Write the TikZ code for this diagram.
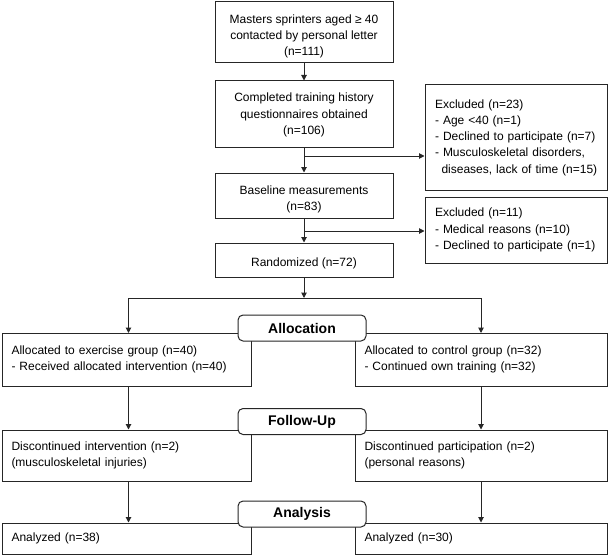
\documentclass[tikz,border=0pt]{standalone}
\usepackage{fontspec}
\setmainfont{Liberation Sans}
\usetikzlibrary{arrows.meta,calc}
\tikzset{
  every node/.style={font=\fontsize{12}{16.3}\selectfont},
  box/.style={draw=black!85, line width=1pt, rectangle, inner sep=0pt, fill=white},
  cbox/.style={box, align=center, minimum width=178pt},
  lbox/.style={box, align=left, inner xsep=10pt},
  phase/.style={draw=black!85, line width=1pt, rounded corners=5pt, fill=white,
     minimum width=128pt, minimum height=26pt, inner sep=0pt,
     font=\fontsize{14}{16}\selectfont\bfseries},
  arr/.style={draw=black!85, line width=1pt, -{Triangle[length=5.5pt,width=5.5pt]}},
}
\begin{document}
\begin{tikzpicture}[x=1pt,y=-1pt]
\useasboundingbox (0,0) rectangle (609,556);
% main column
\node[cbox, minimum height=61pt] (b1) at (304,32.5) {\rule{0pt}{16.5pt}Masters sprinters aged ≥ 40\\contacted by personal letter\\(n=111)};
\node[cbox, minimum height=66pt] (b2) at (304,114) {\rule{0pt}{11pt}Completed training history\\questionnaires obtained\\(n=106)};
\node[cbox, minimum height=45pt] (b3) at (304,195.5) {\rule{0pt}{16pt}Baseline measurements\\(n=83)};
\node[cbox, minimum height=34pt] (b4) at (304,260) {\rule{0pt}{16pt}Randomized (n=72)};
% exclusions
\node[lbox, text width=162pt, minimum height=105pt] (e1) at (516,137.5) {Excluded (n=23)\\- Age <40 (n=1)\\- Declined to participate (n=7)\\- Musculoskeletal disorders,\\\hspace*{6.5pt}\makebox[0pt][l]{diseases, lack of time (n=15)}};
\node[lbox, text width=162pt, minimum height=66pt] (e2) at (516,230) {Excluded (n=11)\\- Medical reasons (n=10)\\- Declined to participate (n=1)};
% groups
\node[lbox, inner xsep=9.5pt, text width=230pt, minimum height=53pt] (al) at (126.5,359.5) {Allocated to exercise group (n=40)\\- Received allocated intervention (n=40)};
\node[lbox, inner xsep=9.5pt, text width=233pt, minimum height=53pt] (ar) at (481,359.5) {Allocated to control group (n=32)\\- Continued own training (n=32)};
\node[lbox, inner xsep=9.5pt, text width=230pt, minimum height=51pt] (fl) at (126.5,455.5) {Discontinued intervention (n=2)\\(musculoskeletal injuries)};
\node[lbox, inner xsep=9.5pt, text width=233pt, minimum height=51pt] (fr) at (481,455.5) {Discontinued participation (n=2)\\(personal reasons)};
\node[lbox, inner xsep=9.5pt, text width=230pt, minimum height=31pt] (nl) at (126.5,538.5) {Analyzed (n=38)};
\node[lbox, inner xsep=9.5pt, text width=233pt, minimum height=31pt] (nr) at (481,538.5) {Analyzed (n=30)};
% coordinates
\coordinate (s1) at (304,156);
\coordinate (s2) at (304,231);
\coordinate (s3) at (304,298);
\coordinate (tl) at (128.5,333);
\coordinate (tr) at (481,333);
% connectors
\draw[arr] (b1.south) -- (b2.north);
\draw[arr] (b2.south) -- (b3.north);
\draw[arr] (s1) -- (s1 -| e1.west);
\draw[arr] (b3.south) -- (b4.north);
\draw[arr] (s2) -- (s2 -| e2.west);
\draw[arr] (b4.south) -- (s3);
\draw[arr] (s3) -| (tl);
\draw[arr] (s3) -| (tr);
\draw[arr] (al.south -| tl) -- (fl.north -| tl);
\draw[arr] (ar.south) -- (fr.north);
\draw[arr] (fl.south -| tl) -- (nl.north -| tl);
\draw[arr] (fr.south) -- (nr.north);
% phase labels
\node[phase] (pa) at (302,328) {Allocation};
\node[phase] (pf) at (302,421.5) {Follow-Up};
\node[phase] (pn) at (302,514) {Analysis};
\end{tikzpicture}
\end{document}
